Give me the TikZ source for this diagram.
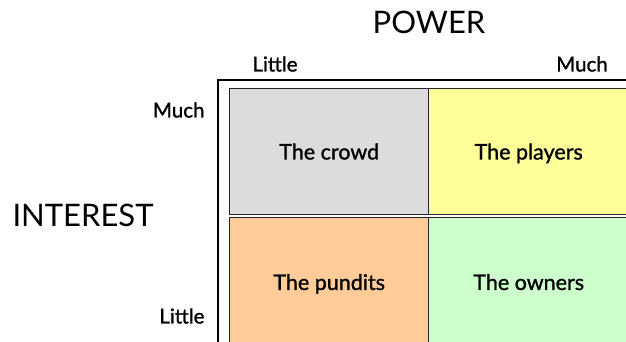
\documentclass[tikz,border=0pt]{standalone}
\usepackage{fontspec}
\setmainfont{Lato}
\newfontfamily\medfont[FakeBold=1.2]{Lato}
\definecolor{cgrey}{HTML}{DCDCDC}
\definecolor{cyellow}{HTML}{FFFF99}
\definecolor{corange}{HTML}{FFCC99}
\definecolor{cgreen}{HTML}{CCFFCC}
\begin{document}
\begin{tikzpicture}[x=1pt,y=-1pt,
  cell/.style={draw=black!85,line width=1.4pt,anchor=north west,inner sep=0pt,
    text height=20pt,text depth=4pt,
    font=\medfont\fontsize{21.5}{24}\selectfont},
  axis/.style={font=\fontsize{31}{36}\selectfont},
  tick/.style={font=\medfont\fontsize{20.5}{24}\selectfont}]
\useasboundingbox (0,0) rectangle (626,341);
\clip (0,0) rectangle (626,341);
\fill[white] (0,0) rectangle (626,341);
\node[draw=black,line width=2pt,anchor=north west,minimum width=440pt,minimum height=300pt,inner sep=0pt] (frame) at (216.5,78.5) {};
\node[cell,fill=cgrey,minimum width=199pt,minimum height=125.5pt] (crowd) at (229,88) {The crowd};
\node[cell,fill=cyellow,minimum width=200pt,minimum height=125.5pt] (players) at (428,88) {The players};
\node[cell,fill=corange,minimum width=199pt,minimum height=129.5pt] (pundits) at (229,216.5) {The pundits};
\node[cell,fill=cgreen,minimum width=200pt,minimum height=129.5pt] (owners) at (428,216.5) {The owners};
\node[axis] (power) at (429,22) {POWER};
\node[axis,anchor=west] (interest) at (9,215) {INTEREST};
\node[tick] (plittle) at (275,64) {Little};
\node[tick] (pmuch) at (582,64) {Much};
\node[tick,anchor=east] (imuch) at (208,110) {Much};
\node[tick,anchor=east] (ilittle) at (208,316) {Little};
\end{tikzpicture}
\end{document}
